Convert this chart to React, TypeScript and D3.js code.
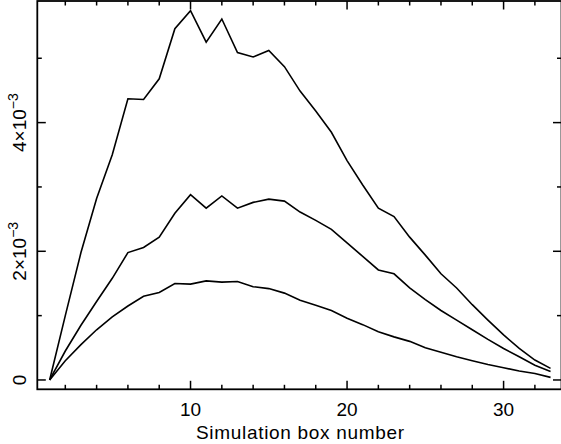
import React from "react";
import * as d3 from "d3";

const boxes = d3.range(1, 34);
// values in units of 1e-3
const seriesTop = [0, 1.0, 1.98, 2.82, 3.5, 4.37, 4.36, 4.68, 5.46, 5.74, 5.25, 5.61, 5.09, 5.02, 5.12, 4.87, 4.49, 4.18, 3.85, 3.41, 3.03, 2.67, 2.54, 2.22, 1.94, 1.65, 1.43, 1.17, 0.93, 0.7, 0.49, 0.31, 0.18];
const seriesMid = [0, 0.45, 0.85, 1.22, 1.58, 1.98, 2.06, 2.22, 2.59, 2.88, 2.67, 2.86, 2.67, 2.76, 2.81, 2.78, 2.61, 2.48, 2.34, 2.13, 1.92, 1.71, 1.65, 1.43, 1.25, 1.08, 0.93, 0.78, 0.63, 0.49, 0.36, 0.23, 0.13];
const seriesLow = [0, 0.3, 0.55, 0.78, 0.98, 1.15, 1.3, 1.36, 1.5, 1.49, 1.54, 1.52, 1.53, 1.45, 1.42, 1.35, 1.24, 1.16, 1.08, 0.96, 0.86, 0.75, 0.67, 0.6, 0.5, 0.43, 0.36, 0.3, 0.24, 0.19, 0.14, 0.1, 0.04];
const xMajorTicks = [10, 20, 30];
const xMinorTicks = [2, 4, 6, 8, 12, 14, 16, 18, 22, 24, 26, 28, 32];
const yMajorTicks = [0, 2, 4];
const yMinorTicks = [1, 3, 5];
const yTickLabels = ["0", "2", "4"];
const xTitle = "Simulation box number";

export default function App() {
  const L = 37.3, R = 561.5, T = 1, B = 389.3;
  const x = d3.scaleLinear().domain([0.211, 33.7]).range([L, R]);
  const y = d3.scaleLinear().domain([-0.145, 5.89]).range([B, T]);
  const line = d3.line<number>().x((_, i) => x(boxes[i])).y((d) => y(d));
  const font = "'Liberation Sans', Arial, sans-serif";
  const major = 8.5, minor = 4.5;
  return (
    <svg width={561} height={444} style={{ position: "absolute", left: 0, top: 0, background: "#fff" }}>
      <rect x={0} y={0} width={561} height={444} fill="#fff" />
      {[seriesTop, seriesMid, seriesLow].map((s, k) => (
        <path key={k} d={line(s) || ""} fill="none" stroke="#000" strokeWidth={1.6} strokeLinejoin="miter" />
      ))}
      <rect x={L} y={T} width={R - L} height={B - T} fill="none" stroke="#000" strokeWidth={1.8} />
      {xMajorTicks.map((t) => (
        <g key={"xM" + t}>
          <line x1={x(t)} x2={x(t)} y1={B} y2={B - major} stroke="#000" strokeWidth={1.5} />
          <line x1={x(t)} x2={x(t)} y1={T} y2={T + major} stroke="#000" strokeWidth={1.5} />
          <text x={x(t)} y={416} textAnchor="middle" fontFamily={font} fontSize={19}>{t}</text>
        </g>
      ))}
      {xMinorTicks.map((t) => (
        <g key={"xm" + t}>
          <line x1={x(t)} x2={x(t)} y1={B} y2={B - minor} stroke="#000" strokeWidth={1.5} />
          <line x1={x(t)} x2={x(t)} y1={T} y2={T + minor} stroke="#000" strokeWidth={1.5} />
        </g>
      ))}
      {yMajorTicks.map((t, i) => (
        <g key={"yM" + t}>
          <line x1={L} x2={L + major} y1={y(t)} y2={y(t)} stroke="#000" strokeWidth={1.5} />
          <line x1={R} x2={R - major} y1={y(t)} y2={y(t)} stroke="#000" strokeWidth={1.5} />
          <text transform={`translate(26,${y(t)}) rotate(-90)`} textAnchor="middle" fontFamily={font} fontSize={19}>
            {t === 0 ? (
              yTickLabels[i]
            ) : (
              <>
                <tspan>{yTickLabels[i]}×10</tspan>
                <tspan dy={-8} fontSize={14}>−3</tspan>
              </>
            )}
          </text>
        </g>
      ))}
      {yMinorTicks.map((t) => (
        <g key={"ym" + t}>
          <line x1={L} x2={L + minor} y1={y(t)} y2={y(t)} stroke="#000" strokeWidth={1.5} />
          <line x1={R} x2={R - minor} y1={y(t)} y2={y(t)} stroke="#000" strokeWidth={1.5} />
        </g>
      ))}
      <text x={300} y={439} textAnchor="middle" fontFamily={font} fontSize={19} textLength={208} lengthAdjust="spacing">
        {xTitle}
      </text>
    </svg>
  );
}
